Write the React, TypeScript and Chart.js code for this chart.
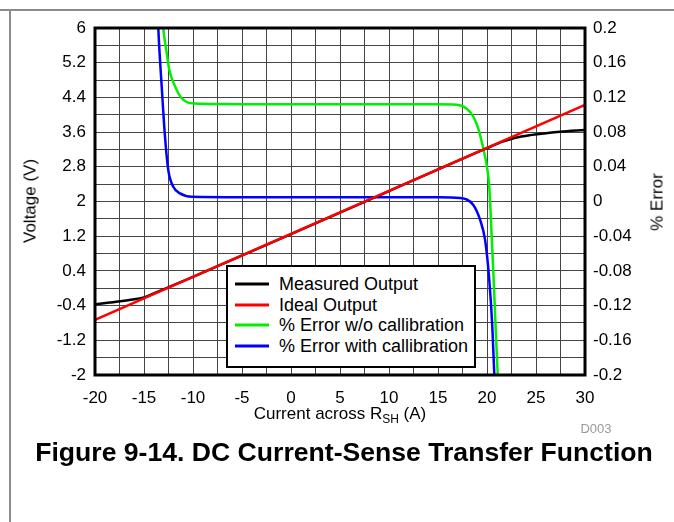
import React, { useEffect, useRef } from 'react';
import { Chart, registerables } from 'chart.js';

Chart.register(...registerables);

// ---- data ----
const xTickLabels = ['-20', '-15', '-10', '-5', '0', '5', '10', '15', '20', '25', '30'];
const voltageTickLabels = ['-2', '-1.2', '-0.4', '0.4', '1.2', '2', '2.8', '3.6', '4.4', '5.2', '6'];
const errorTickLabels = ['-0.2', '-0.16', '-0.12', '-0.08', '-0.04', '0', '0.04', '0.08', '0.12', '0.16', '0.2'];

const measuredCurrent = [-20, -18.5, -16.5, -15, -14, -10, 0, 10, 20, 21.6, 22.9, 24.4, 27.45, 30];
const measuredVoltage = [-0.37, -0.33, -0.27, -0.21, -0.12, 0.26, 1.25, 2.24, 3.23, 3.38, 3.47, 3.53, 3.61, 3.65];

const idealCurrent = [-20, 30];
const idealVoltage = [-0.73, 4.23];

const errNoCalCurrent = [-13.25, -13.03, -12.68, -12.42, -11.84, -11.15, -10.13, -8, -5, 0, 5, 10, 15, 16.9, 17.93, 18.6, 19.11, 19.46, 19.8, 20.0, 20.23, 20.48, 20.71, 20.92, 21.09, 21.2];
const errNoCal = [0.24, 0.2, 0.171, 0.152, 0.133, 0.119, 0.1132, 0.1125, 0.112, 0.112, 0.112, 0.112, 0.112, 0.1115, 0.107, 0.098, 0.084, 0.069, 0.052, 0.04, 0.017, -0.04, -0.098, -0.156, -0.198, -0.22];

const errCalCurrent = [-13.6, -13.54, -13.19, -12.86, -12.52, -12.01, -11.33, -10.13, -5, 0, 5, 10, 15, 17.24, 18.6, 19.29, 19.8, 20.23, 20.54, 20.74, 20.85];
const errCal = [0.22, 0.2, 0.132, 0.075, 0.036, 0.017, 0.0094, 0.0055, 0.005, 0.005, 0.005, 0.005, 0.005, 0.004, -0.004, -0.021, -0.044, -0.09, -0.144, -0.198, -0.22];

const legendItems = [
  { label: 'Measured Output', color: '#000000' },
  { label: 'Ideal Output', color: '#ff0000' },
  { label: '% Error w/o callibration', color: '#00ee00' },
  { label: '% Error with callibration', color: '#0000ff' },
];

const FONT = '"Liberation Sans", Arial, Helvetica, sans-serif';

const pts = (xs: number[], ys: number[]) => xs.map((x, i) => ({ x, y: ys[i] }));

const frameBorder = {
  id: 'frameBorder',
  afterDatasetsDraw(chart: any) {
    const { ctx, chartArea } = chart;
    ctx.save();
    ctx.strokeStyle = '#000';
    ctx.lineWidth = 3;
    ctx.strokeRect(chartArea.left, chartArea.top, chartArea.right - chartArea.left, chartArea.bottom - chartArea.top);
    ctx.restore();
  },
};

export default function App() {
  const ref = useRef<HTMLCanvasElement>(null);

  useEffect(() => {
    if (!ref.current) return;
    const chart = new Chart(ref.current, {
      type: 'line',
      data: {
        datasets: [
          {
            label: legendItems[0].label,
            data: pts(measuredCurrent, measuredVoltage),
            borderColor: legendItems[0].color,
            borderWidth: 2.5,
            pointRadius: 0,
            cubicInterpolationMode: 'monotone',
            yAxisID: 'y',
            order: 1,
          },
          {
            label: legendItems[1].label,
            data: pts(idealCurrent, idealVoltage),
            borderColor: legendItems[1].color,
            borderWidth: 2.5,
            pointRadius: 0,
            yAxisID: 'y',
            order: 0,
          },
          {
            label: legendItems[2].label,
            data: pts(errNoCalCurrent, errNoCal),
            borderColor: legendItems[2].color,
            borderWidth: 2.5,
            pointRadius: 0,
            cubicInterpolationMode: 'monotone',
            yAxisID: 'y1',
            order: 2,
          },
          {
            label: legendItems[3].label,
            data: pts(errCalCurrent, errCal),
            borderColor: legendItems[3].color,
            borderWidth: 2.5,
            pointRadius: 0,
            cubicInterpolationMode: 'monotone',
            yAxisID: 'y1',
            order: 3,
          },
        ],
      },
      options: {
        responsive: false,
        animation: false,
        devicePixelRatio: 1,
        layout: { padding: { top: 28, left: 0, right: 0, bottom: 0 } },
        plugins: { legend: { display: false }, tooltip: { enabled: false }, title: { display: false } },
        scales: {
          x: {
            type: 'linear',
            min: -20,
            max: 30,
            afterFit: (s: any) => { s.height = 147; },
            ticks: {
              stepSize: 2.5,
              autoSkip: false,
              maxRotation: 0,
              padding: 13,
              color: '#000',
              font: { family: FONT, size: 17 },
              callback: (_v: any, i: number) => (i % 2 === 0 ? xTickLabels[i / 2] : ''),
            },
            grid: { color: '#454545', lineWidth: 1, drawTicks: false },
            border: { display: false },
          },
          y: {
            type: 'linear',
            position: 'left',
            min: -2,
            max: 6,
            afterFit: (s: any) => { s.width = 95; },
            ticks: {
              stepSize: 0.4,
              autoSkip: false,
              padding: 9,
              color: '#000',
              font: { family: FONT, size: 17 },
              callback: (_v: any, i: number) => (i % 2 === 0 ? voltageTickLabels[i / 2] : ''),
            },
            grid: { color: '#454545', lineWidth: 1, drawTicks: false },
            border: { display: false },
          },
          y1: {
            type: 'linear',
            position: 'right',
            min: -0.2,
            max: 0.2,
            afterFit: (s: any) => { s.width = 89; },
            ticks: {
              stepSize: 0.04,
              autoSkip: false,
              padding: 8,
              color: '#000',
              font: { family: FONT, size: 17 },
              callback: (_v: any, i: number) => errorTickLabels[i],
            },
            grid: { display: false, drawTicks: false },
            border: { display: false },
          },
        },
      },
      plugins: [frameBorder],
    } as any);
    return () => chart.destroy();
  }, []);

  const abs: React.CSSProperties = { position: 'absolute', whiteSpace: 'nowrap', fontFamily: FONT, color: '#000', lineHeight: 1 };

  return (
    <div style={{ position: 'absolute', left: 0, top: 0, width: 674, height: 522, background: '#fff', overflow: 'hidden' }}>
      <div style={{ position: 'absolute', left: 0, top: 9, width: 674, height: 2, background: '#8c8c8c' }} />
      <div style={{ position: 'absolute', left: 9, top: 9, width: 2, height: 513, background: '#8c8c8c' }} />
      <canvas ref={ref} width={674} height={522} style={{ position: 'absolute', left: 0, top: 0, display: 'block' }} />
      <div style={{ ...abs, left: 30, top: 201, fontSize: 17, transform: 'translate(-50%, -50%) rotate(-90deg)' }}>Voltage (V)</div>
      <div style={{ ...abs, left: 657, top: 202, fontSize: 17, transform: 'translate(-50%, -50%) rotate(-90deg)' }}>% Error</div>
      <div style={{ ...abs, left: 340, top: 415, fontSize: 17, transform: 'translate(-50%, -50%)' }}>
        Current across R<span style={{ fontSize: 12, verticalAlign: -4 }}>SH</span> (A)
      </div>
      <div style={{ ...abs, left: 596, top: 428, fontSize: 13, color: '#9a9a9a', transform: 'translate(-50%, -50%)' }}>D003</div>
      <div style={{ ...abs, left: 344, top: 452, fontSize: 26.6, fontWeight: 'bold', transform: 'translate(-50%, -50%)' }}>
        Figure 9-14. DC Current-Sense Transfer Function
      </div>
      <div style={{ position: 'absolute', left: 226, top: 265, width: 250, height: 103, boxSizing: 'border-box', border: '2px solid #000', background: '#fff' }}>
        {legendItems.map((it, i) => (
          <div key={it.label} style={{ position: 'absolute', left: 0, top: 19 + i * 20.7 - 2, height: 0 }}>
            <div style={{ position: 'absolute', left: 7, top: 0, width: 34, height: 3, background: it.color, transform: 'translateY(-50%)' }} />
            <div style={{ ...abs, left: 51, top: 0, fontSize: 18, transform: 'translateY(-50%)' }}>{it.label}</div>
          </div>
        ))}
      </div>
    </div>
  );
}
